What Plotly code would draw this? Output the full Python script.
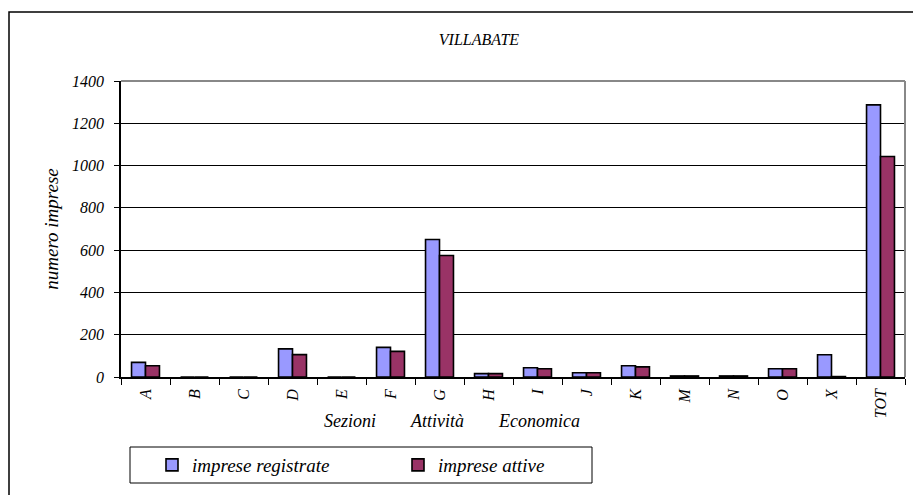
import plotly.graph_objects as go

categories = ["A", "B", "C", "D", "E", "F", "G", "H", "I", "J", "K", "M", "N", "O", "X", "TOT"]
registrate = [69, 0, 0, 133, 0, 140, 650, 16, 44, 20, 53, 5, 5, 39, 105, 1287]
attive = [53, 0, 0, 106, 0, 121, 575, 16, 39, 20, 48, 5, 5, 39, 2, 1043]
y_ticks = [0, 200, 400, 600, 800, 1000, 1200, 1400]
x_title_words = ["Sezioni", "Attività", "Economica"]

W, H = 913, 495
L, R, T, B = 121, 905, 81, 377  # plot area in pixels
pw, ph = R - L, B - T

def px(x):
    return (x - L) / pw

def py(y):
    return (B - y) / ph

FONT = "Liberation Serif"

fig = go.Figure()
fig.add_trace(go.Bar(x=categories, y=registrate, name="imprese registrate",
                     marker=dict(color="#9999FF", line=dict(color="black", width=1.6))))
fig.add_trace(go.Bar(x=categories, y=attive, name="imprese attive",
                     marker=dict(color="#993366", line=dict(color="black", width=1.6))))

fig.update_layout(
    width=W, height=H,
    margin=dict(l=L, r=W - R, t=T, b=H - B, autoexpand=False),
    paper_bgcolor="white", plot_bgcolor="white",
    barmode="group", bargap=0.43, bargroupgap=0,
    font=dict(family=FONT, color="black", style="italic"),
    title=dict(text="VILLABATE", x=479 / W, xref="container", xanchor="center",
               y=1 - 39 / H, yanchor="middle",
               font=dict(family=FONT, size=16, style="italic", color="black")),
    showlegend=True,
    legend=dict(orientation="h", x=px(152), y=py(465), xanchor="left", yanchor="middle",
                borderwidth=0, bgcolor="rgba(0,0,0,0)",
                font=dict(family=FONT, size=19, style="italic", color="black"),
                entrywidth=201, traceorder="normal"),
)

fig.update_yaxes(range=[0, 1400], tickvals=y_ticks, showgrid=True, gridcolor="black",
                 gridwidth=1, showline=True, linecolor="black", linewidth=1.5,
                 ticks="outside", ticklen=5, tickcolor="black", ticklabelstandoff=7,
                 tickfont=dict(family=FONT, size=16, style="italic"),
                 zeroline=False,
                 title=dict(text="numero imprese", standoff=8,
                            font=dict(family=FONT, size=19, style="italic")))
fig.update_xaxes(showline=True, linecolor="black", linewidth=1.5,
                 ticks="outside", ticklen=6, tickcolor="black", tickson="boundaries",
                 tickangle=-90, ticklabelstandoff=4,
                 tickfont=dict(family=FONT, size=16, style="italic"),
                 showgrid=False)

# plot area border (top/right, gray)
fig.add_shape(type="line", xref="paper", yref="paper", x0=0, x1=1, y0=1, y1=1,
              line=dict(color="#888888", width=2))
fig.add_shape(type="line", xref="paper", yref="paper", x0=1, x1=1, y0=0, y1=1,
              line=dict(color="#888888", width=2))

# outer chart frame
fig.add_shape(type="rect", xref="paper", yref="paper",
              x0=px(9), x1=px(920), y0=py(500), y1=py(12),
              line=dict(color="black", width=1.5), layer="below")

# legend frame
fig.add_shape(type="rect", xref="paper", yref="paper",
              x0=px(130), x1=px(592), y0=py(483), y1=py(447),
              line=dict(color="black", width=1), layer="below")

# x axis title words
for word, cx in zip(x_title_words, [350, 436.5, 538.5]):
    fig.add_annotation(text=word, xref="paper", yref="paper", x=px(cx), y=py(421),
                       showarrow=False, xanchor="center", yanchor="middle",
                       font=dict(family=FONT, size=18, style="italic", color="black"))

fig.write_html("out.html", config={"displayModeBar": False},
               post_script="document.body.style.margin='0px';")
